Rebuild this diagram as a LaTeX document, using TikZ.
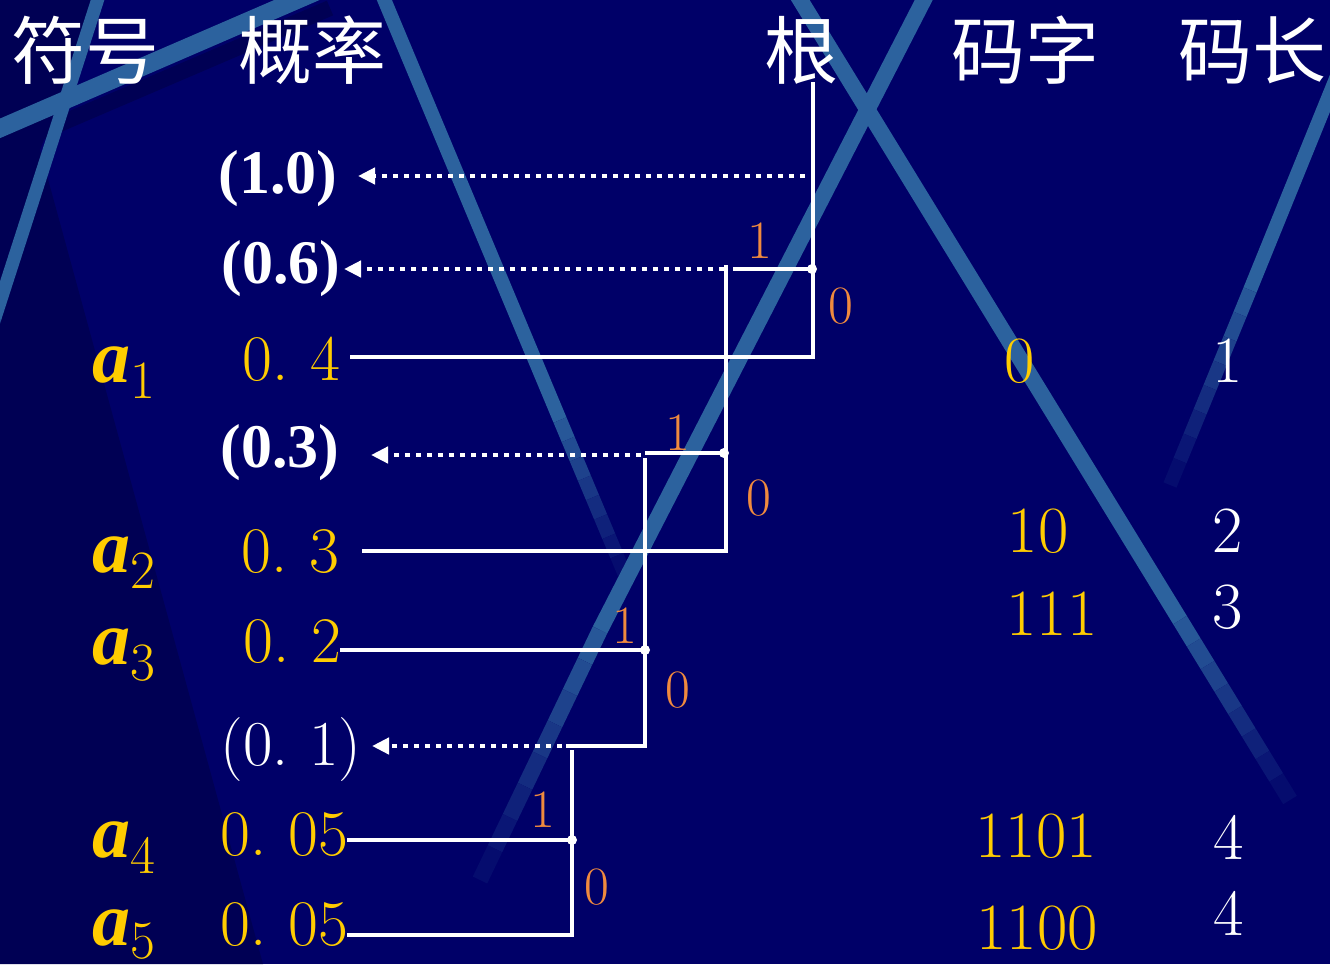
\documentclass[tikz,border=0pt]{standalone}
\usepackage{fontspec}
\usetikzlibrary{arrows.meta,calc}
\newfontfamily\cjk{Noto Sans CJK SC}
\newfontfamily\tnr{Liberation Serif}
\definecolor{bg}{RGB}{0,0,104}
\definecolor{bgdark}{RGB}{0,0,84}
\definecolor{stripe}{RGB}{44,98,158}
\definecolor{gold}{RGB}{255,204,0}
\definecolor{bitc}{RGB}{240,138,62}
% width, start, solid end, fade end
\newcommand{\bgstripe}[4]{%
  \draw[stripe,line width=#1] (#2) -- (#3);
  \foreach \i [evaluate=\i as \pc using {int(100-\i*11)}] in {1,...,8}{%
    \draw[stripe!\pc!bg,line width=#1] ($(#3)!{(\i-1)/8}!(#4)$) -- ($(#3)!{\i/8}!(#4)$);}%
}
\newcommand{\subdig}[2][-16pt]{\raisebox{#1}{\normalfont\fontsize{54}{56}\selectfont #2}}
\newcommand{\tsp}{\spaceskip=0.23em\relax}
\begin{document}
\begin{tikzpicture}[x=1pt,y=-1pt,
  every node/.style={inner sep=0pt,outer sep=0pt},
  hdr/.style={text=white,font=\cjk\fontsize{74}{80}\selectfont,anchor=center},
  sym/.style={text=gold,anchor=base west,font=\tnr\bfseries\itshape\fontsize{76}{80}\selectfont},
  prob/.style={text=gold,font=\fontsize{65}{70}\selectfont,anchor=base east},
  sumlbl/.style={text=white,font=\tnr\bfseries\fontsize{62}{70}\selectfont,anchor=base},
  sumlblcm/.style={text=white,font=\fontsize{64}{70}\selectfont,anchor=base},
  bit/.style={text=bitc,font=\fontsize{54}{60}\selectfont,anchor=base},
  codew/.style={text=gold,font=\fontsize{66}{70}\selectfont,anchor=base},
  lenw/.style={text=white,font=\fontsize{66}{70}\selectfont,anchor=base},
  edge/.style={draw=white,line width=4pt},
  dotarrow/.style={draw=white,line width=4.5pt,dash pattern=on 5pt off 6pt,-{Triangle[length=17pt,width=16pt]}},
  jdot/.style={fill=white}
]
\useasboundingbox (0,0) rectangle (1330,964);
\clip (0,0) rectangle (1330,964);
\fill[bg] (0,0) rectangle (1330,964);
% background texture
\fill[bgdark] (0,0) -- (98,0) -- (40,150) -- (263,964) -- (0,964) -- cycle;
\draw[bgdark,line width=16pt] (-20,158) -- (330,8);
\bgstripe{18pt}{-20,137}{320,-10}{330,-14}
\bgstripe{13pt}{104,-20}{-5,318}{-8,328}
\bgstripe{14pt}{376,-20}{560,420}{625,575}
\bgstripe{16pt}{788,-20}{1180,620}{1290,800}
\bgstripe{16pt}{934,-20}{600,630}{480,880}
\bgstripe{14pt}{1376,-20}{1250,290}{1170,485}

% headers
\node[hdr] (H1) at (85,50) {符号};
\node[hdr] (H2) at (312,50) {概率};
\node[hdr] (H3) at (801,50) {根};
\node[hdr] (H4) at (1025,50) {码字};
\node[hdr] (H5) at (1252,50) {码长};

% symbols
\node[sym] (S1) at (92,382) {a\subdig{1}};
\node[sym] (S2) at (92,572) {a\subdig{2}};
\node[sym] (S3) at (92,664) {a\subdig{3}};
\node[sym] (S4) at (92,857) {a\subdig{4}};
\node[sym] (S5) at (92,945) {a\subdig[-13pt]{5}};

% probabilities
\node[prob] (P1) at (340,380) {\tsp 0. 4};
\node[prob] (P2) at (339,572) {\tsp 0. 3};
\node[prob] (P3) at (341,662) {\tsp 0. 2};
\node[prob] (P4) at (348,855) {\tsp 0. 05};
\node[prob] (P5) at (348,945) {\tsp 0. 05};

% merged sums
\node[sumlbl] (Q1) at (278,193) {(1.0)};
\node[sumlbl] (Q2) at (281,283) {(0.6)};
\node[sumlbl] (Q3) at (280,467) {(0.3)};
\node[sumlblcm] (Q4) at (291,765) {\tsp (0. 1)};

% codewords and lengths
\node[codew] (C1) at (1020,382) {0};
\node[codew] (C2) at (1038,552) {10};
\node[codew] (C3) at (1052,635) {111};
\node[codew] (C4) at (1036,857) {1101};
\node[codew] (C5) at (1037,949) {1100};
\node[lenw] (L1) at (1228,382) {1};
\node[lenw] (L2) at (1228,552) {2};
\node[lenw] (L3) at (1228,628) {3};
\node[lenw] (L4) at (1229,859) {4};
\node[lenw] (L5) at (1229,935) {4};

% tree coordinates
\coordinate (Rtop) at (813,82);
\coordinate (A1e) at (350,357);
\coordinate (J1) at (812,269);
\coordinate (H1s) at (733,269);
\coordinate (V2t) at (726,265);
\coordinate (A2e) at (362,551);
\coordinate (J2) at (724,453);
\coordinate (H3s) at (645,453);
\coordinate (V3t) at (645,458);
\coordinate (A3e) at (340,650);
\coordinate (J3) at (645,650);
\coordinate (H4s) at (566,746);
\coordinate (V4t) at (572,750);
\coordinate (A4e) at (347,840);
\coordinate (J4) at (572,840);
\coordinate (A5e) at (347,935);
% dotted arrow ends
\coordinate (D1s) at (805,176);  \coordinate (T1) at (358,176);
\coordinate (D2s) at (724,269);  \coordinate (T2) at (344,269);
\coordinate (D3s) at (641,455);  \coordinate (T3) at (371,455);
\coordinate (D4s) at (562,746);  \coordinate (T4) at (372,746);

% edges
\draw[edge] (A1e) -| (Rtop);
\draw[edge] (H1s) -- (J1);
\draw[edge] (A2e) -| (V2t);
\draw[edge] (H3s) -- (J2);
\draw[edge] (H4s) -| (V3t);
\draw[edge] (A3e) -- (J3);
\draw[edge] (A5e) -| (V4t);
\draw[edge] (A4e) -- (J4);
\fill[jdot] (J1) circle (5pt);
\fill[jdot] (J2) circle (5pt);
\fill[jdot] (J3) circle (5pt);
\fill[jdot] (J4) circle (5pt);

\draw[dotarrow] (D1s) -- (T1);
\draw[dotarrow] (D2s) -- (T2);
\draw[dotarrow] (D3s) -- (T3);
\draw[dotarrow] (D4s) -- (T4);

% branch labels
\node[bit] (B1) at (760,258) {1};
\node[bit] (B0) at (841,323) {0};
\node[bit] (B2) at (678,450) {1};
\node[bit] (B3) at (759,515) {0};
\node[bit] (B4) at (625,643) {1};
\node[bit] (B5) at (678,707) {0};
\node[bit] (B6) at (543,827) {1};
\node[bit] (B7) at (597,904) {0};
\end{tikzpicture}
\end{document}
